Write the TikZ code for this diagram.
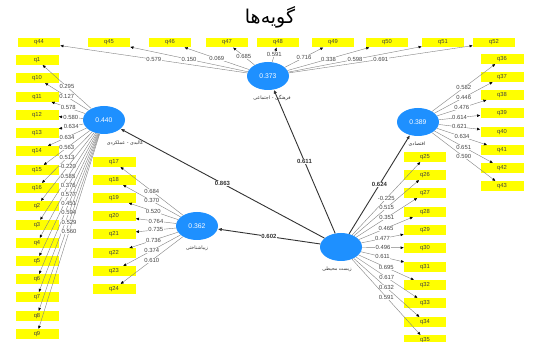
\documentclass[tikz,border=0pt]{standalone}
\usepackage{fontspec}
\setmainfont{Liberation Sans}
\newfontfamily\arabicfont[Script=Arabic]{DejaVu Sans}
\TeXXeTstate=1
\usetikzlibrary{shapes.geometric,arrows.meta}
\definecolor{lvblue}{RGB}{30,144,255}
\definecolor{boxyellow}{RGB}{255,255,0}
\definecolor{ldgray}{RGB}{130,130,130}
\definecolor{labgray}{RGB}{70,70,70}
\tikzset{
  ind/.style={fill=boxyellow, minimum width=42pt, minimum height=9.5pt, inner sep=0pt, font=\fontsize{5.8}{5.8}\selectfont, text=black!75},
  lv/.style={ellipse, fill=lvblue, minimum width=42pt, minimum height=28pt, inner sep=0pt, text=white, font=\fontsize{6.8}{6.8}\selectfont},
  ld/.style={draw=ldgray, line width=0.4pt, -{Latex[length=3.2pt,width=2.8pt,color=black]}},
  lab/.style={fill=white, inner sep=0.4pt, font=\fontsize{5.9}{5.9}\selectfont, text=labgray, pos=0.5},
  sp/.style={draw=black!80, line width=0.9pt, -{Latex[length=4pt,width=3.4pt]}},
  slab/.style={fill=white, inner sep=0.5pt, font=\bfseries\fontsize{6}{6}\selectfont, text=black!80, pos=0.5},
  fa/.style={font=\arabicfont\fontsize{4.8}{4.8}\selectfont, text=black!80},
}
\begin{document}
\begin{tikzpicture}[x=1pt,y=-1pt]
\useasboundingbox (0,0) rectangle (542,342);
\fill[white] (0,0) rectangle (542,342);
% title
\node[font=\arabicfont\fontsize{19}{19}\selectfont] (title) at (270,17) {\beginR گویه‌ها\endR};
% latent variables
\node[lv] (L) at (104,120) {0.440};
\node[lv] (T) at (268,76) {0.373};
\node[lv] (R) at (418,122) {0.389};
\node[lv] (M) at (197,226) {0.362};
\node[lv] (B) at (341,247) {};
\node[fa] (Lt) at (125,143) {\beginR کالبدی - عملکردی\endR};
\node[fa] (Tt) at (272,98) {\beginR فرهنگی - اجتماعی\endR};
\node[fa] (Rt) at (417,144) {\beginR اقتصادی\endR};
\node[fa] (Mt) at (197,248) {\beginR زیباشناختی\endR};
\node[fa] (Bt) at (337,269) {\beginR زیست محیطی\endR};
% indicator boxes
\foreach \n/\x in {44/39,45/109,46/170,47/227,48/278,49/333,50/387,51/443,52/494}
  \node[ind] (q\n) at (\x,42.5) {q\n};
\foreach \n/\y in {1/60,10/78,11/97,12/115,13/133,14/151,15/170,16/188,2/206,3/225,4/243,5/261,6/279,7/297,8/316,9/334}
  \node[ind, minimum width=43pt] (q\n) at (37,\y) {q\n};
\foreach \n/\y in {36/59,37/77,38/95,39/113,40/132,41/150,42/168,43/186}
  \node[ind, minimum width=43pt] (q\n) at (502,\y) {q\n};
\foreach \n/\y in {25/157,26/175,27/193,28/212,29/230,30/248,31/267,32/285,33/303,34/322,35/340}
  \node[ind] (q\n) at (425,\y) {q\n};
\foreach \n/\y in {17/162,18/180,19/198,20/216,21/234,22/253,23/271,24/289}
  \node[ind, minimum width=43pt] (q\n) at (114,\y) {q\n};
% loadings
\foreach \n/\v in {44/0.579,45/0.150,46/0.069,47/0.685,48/0.591,49/0.716,50/0.338,51/0.598,52/0.691}
  \draw[ld] (T) -- (q\n) node[lab] {\v};
\foreach \n/\v in {1/0.295,10/0.127,11/0.578,12/0.580,13/0.634,14/0.634,15/0.563,16/0.513,2/-0.220,3/0.585,4/0.376,5/0.577,6/0.451,7/0.594,8/0.529,9/0.560}
  \draw[ld] (L) -- (q\n) node[lab] {\v};
\foreach \n/\v in {36/0.582,37/0.446,38/0.476,39/0.614,40/0.621,41/0.634,42/0.651,43/0.590}
  \draw[ld] (R) -- (q\n) node[lab] {\v};
\foreach \n/\v in {25/-0.225,26/0.515,27/0.351,28/0.465,29/0.477,30/0.496,31/0.611,32/0.695,33/0.617,34/0.632,35/0.591}
  \draw[ld] (B) -- (q\n) node[lab] {\v};
\foreach \n/\v in {17/0.684,18/0.370,19/0.520,20/0.764,21/0.735,22/0.736,23/0.374,24/0.610}
  \draw[ld] (M) -- (q\n) node[lab] {\v};
% structural paths
\draw[sp] (B) -- (T) node[slab] {0.611};
\draw[sp] (B) -- (R) node[slab] {0.624};
\draw[sp] (B) -- (L) node[slab] {0.863};
\draw[sp] (B) -- (M) node[slab] {0.602};
\end{tikzpicture}
\end{document}
